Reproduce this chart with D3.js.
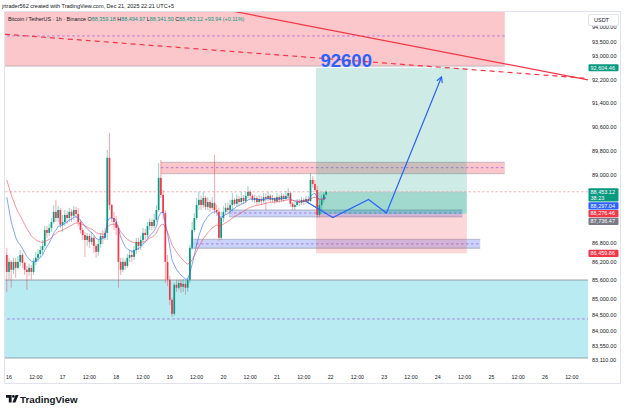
<!DOCTYPE html>
<html><head><meta charset="utf-8">
<script src="https://cdn.jsdelivr.net/npm/d3@7"></script>
<style>body{margin:0;background:#fff;} svg{display:block;font-family:"Liberation Sans",Arial,sans-serif;}</style>
</head><body><svg id="c" width="625" height="411"></svg>
<script>
// ---------------- DATA ----------------
const firstCandle = "2025-12-15T23:00"; // hourly candles, UTC+5 display time
const firstOpen = 86412;
const closes = [
85870,86190,85940,86190,86000,86190,86410,86160,85940,85870,86000,85870,
86190,86320,86440,86570,86700,87210,87120,87280,87470,87800,87600,87860,
87380,87470,87700,87600,87800,87670,87860,87730,87470,87210,87050,86890,
87020,86830,86960,86700,86510,86760,87020,86960,87120,89570,88020,87600,
87470,87280,86190,85940,86190,86060,86320,86410,86350,86570,86830,86700,
86890,87120,87050,87340,87470,87340,87540,87860,88910,88350,87760,86190,
85620,84990,84550,85460,85370,85520,85400,85490,85370,85620,86640,87210,
87600,88020,88190,88020,88250,87960,88120,87930,88090,87860,87800,86960,
87600,87800,87930,87860,88020,88190,88060,88220,88120,88250,88150,88320,
88450,88320,88190,88250,88120,88220,88150,88280,88220,88320,88190,88250,
88150,88280,88190,88320,88220,88320,88410,88060,87960,88020,88120,88090,
88190,88120,88220,88150,88840,88710,88510,87700,88020,88190,88359.18,88453.12];
const highs = [
86640,86320,86250,86320,86320,86380,86570,86480,86190,86060,86130,86090,
86320,86510,86600,86700,86890,87340,87340,87410,87600,88020,88190,87990,
87930,87700,87860,87830,87930,87890,87990,87960,87930,87540,87280,87150,
87120,87090,87150,87020,86760,86890,87120,87210,87280,89830,90400,88060,
87800,87670,87380,86320,86320,86290,86440,86570,86570,86700,86960,86960,
87020,87280,87250,87470,87600,87570,87730,88020,89400,89500,88510,87860,
86410,85750,85050,85520,85620,85620,85620,85650,85590,85680,86730,87470,
87760,88250,88450,88320,88450,88320,88280,88190,88280,89670,88020,87930,
87800,87990,88090,88090,88190,88410,88250,88380,88320,88450,88350,88450,
88640,88510,88380,88350,88320,88350,88320,88410,88410,88450,88380,88350,
88280,88410,88350,88410,88380,88480,88580,88450,88120,88120,88220,88220,
88280,88250,88320,88320,89070,88970,88840,88640,88190,88350,88420,88494.97];
const lows = [
85240,85620,85370,85810,85680,85940,86060,86000,85780,85300,85750,85620,
85780,86090,86190,86320,86440,86640,86960,87020,87150,87410,87470,87470,
87280,87150,87340,87410,87470,87470,87540,87600,87340,87090,86890,86350,
86700,86640,86730,86480,86320,86380,86640,86760,86890,86890,87860,87470,
87210,87050,85370,85780,85870,85940,86000,86190,86190,86250,86440,86570,
86570,86760,86890,86960,87210,87210,87280,87470,87800,88250,87540,85520,
85430,84830,84460,84490,85240,85300,85210,85240,85150,85240,85520,86570,
87150,87540,87860,87860,87930,87860,87860,87800,87860,87730,87670,86860,
86890,87470,87700,87760,87800,87800,87990,87990,88020,88060,88060,88090,
88250,88220,88120,88090,88020,88060,88020,88090,87860,88150,88120,88090,
88060,88090,88090,88120,88120,88190,88220,87960,87860,87860,87960,87990,
88020,88020,88060,88060,88120,88580,88450,87600,87630,87860,88100,88341.50];

// moving averages (EMA 9 blue, EMA 21 red), values at first candle
const emaPeriods = [9, 21];
const emaStartValues = [88283, 88840];

// horizontal zones
const zoneTop    = [94800, 89420, 87860, 86910, 85615];
const zoneBottom = [92660, 89050, 87635, 86625, 83182];
const zoneMid    = [93700, 89245, 87763, 86766, 84390];
const zoneFrom   = ["2025-12-15T12:00","2025-12-18T20:00","2025-12-20T02:30","2025-12-19T09:30","2025-12-15T12:00"];
const zoneTo     = ["2025-12-25T06:00","2025-12-25T06:00","2025-12-24T11:00","2025-12-24T19:00","2025-12-27T12:00"];
const zoneKind   = ["red","red","blue","blue","cyan"];

// long position tool
const posFrom = "2025-12-21T17:30", posTo = "2025-12-24T13:00";
const posEntry = 87736.47, posTarget = 92604.46, posStop = 86459.86;

// trend lines (two anchors each)
const solidLineTimes = ["2025-12-21T12:00","2025-12-26T12:00"], solidLinePrices = [94083, 92294];
const dashLineTimes  = ["2025-12-16T00:00","2025-12-26T12:00"], dashLinePrices  = [93747, 92282];

// projected path
const projTimes  = ["2025-12-21T13:25","2025-12-22T01:00","2025-12-22T17:00","2025-12-23T01:00","2025-12-24T01:40"];
const projPrices = [88121, 87616, 88203, 87762, 92288];
const noteText = "92600", noteTime = "2025-12-22T07:00", notePrice = 92640;

// axes
const priceTicks = [94000,93500,93000,92200,91400,90600,89800,89000,86800,86200,85600,85000,84500,84000,83550,83110];
const axisFrom = "2025-12-16T00:00", axisTo = "2025-12-26T12:00";
const labelValues = [92604.46, 88453.12, 88297.04, 88276.46, 87736.47, 86459.86];
const labelColors = ["#089981","#089981","#2962ff","#f23645","#787b86","#f23645"];
const countdown = "38:23";
const headerText = "jrtrader562 created with TradingView.com, Dec 21, 2025 22:21 UTC+5";
const symbolText = "Bitcoin / TetherUS · 1h · Binance";

// ---------------- DRAW ----------------
const T = s => new Date(s + ":00Z");
const svg = d3.select("#c");
const P = {l:5, r:588, t:11.5, b:368};
const x = d3.scaleUtc().domain([T("2025-12-16T00:00"), T("2025-12-26T00:00")]).range([9, 545]);
const y = d3.scaleLog().domain([83110, 94000]).range([360.3, 27.3]);
const UP = "#089981", DN = "#f23645", TXT = "#131722";
const fmt = d3.format(",.2f");

svg.append("rect").attr("width",625).attr("height",411).attr("fill","#fff");
svg.append("defs").append("clipPath").attr("id","clip")
  .append("rect").attr("x",P.l).attr("y",P.t).attr("width",P.r-P.l).attr("height",P.b-P.t);
const g = svg.append("g").attr("clip-path","url(#clip)");

// zones
const zoneFill = {red:"rgba(242,54,69,0.28)", blue:"rgba(60,95,235,0.27)", cyan:"rgba(0,182,207,0.28)"};
zoneTop.forEach((tp,i)=>{
  const x0 = x(T(zoneFrom[i])), x1 = x(T(zoneTo[i]));
  const y0 = y(tp), y1 = y(zoneBottom[i]);
  g.append("rect").attr("x",x0).attr("y",y0).attr("width",x1-x0).attr("height",y1-y0)
   .attr("fill",zoneFill[zoneKind[i]]);
  [y0,y1].forEach(yy=>g.append("line").attr("x1",x0).attr("x2",x1).attr("y1",yy).attr("y2",yy)
     .attr("stroke","rgba(120,123,134,0.35)").attr("stroke-width",zoneKind[i]==="cyan"?2:1.3));
  g.append("line").attr("x1",x0).attr("x2",x1).attr("y1",y(zoneMid[i])).attr("y2",y(zoneMid[i]))
   .attr("stroke","#a66bd8").attr("stroke-width",1).attr("stroke-dasharray","2.5,2.5").attr("opacity",0.85);
});

// position tool
{
  const x0 = x(T(posFrom)), x1 = x(T(posTo));
  const last = closes[closes.length-1];
  g.append("rect").attr("x",x0).attr("width",x1-x0).attr("y",y(posTarget)).attr("height",y(posEntry)-y(posTarget)).attr("fill","rgba(8,153,129,0.2)");
  g.append("rect").attr("x",x0).attr("width",x1-x0).attr("y",y(posEntry)).attr("height",y(posStop)-y(posEntry)).attr("fill","rgba(242,54,69,0.2)");
  g.append("rect").attr("x",x0).attr("width",x1-x0).attr("y",y(last)).attr("height",y(posEntry)-y(last)).attr("fill","rgba(8,153,129,0.22)");
}

// last price line
const lastC = closes[closes.length-1];
g.append("line").attr("x1",P.l).attr("x2",P.r).attr("y1",y(lastC)).attr("y2",y(lastC))
  .attr("stroke","#f59ca4").attr("stroke-width",0.8).attr("stroke-dasharray","2.5,2");

// candles
const t0 = T(firstCandle).getTime();
const candles = closes.map((c,i)=>({
  t:new Date(t0 + i*3600000), o: i===0?firstOpen:closes[i-1], h:highs[i], l:lows[i], c
}));
const cg = g.append("g");
candles.forEach(d=>{
  const cx = x(d.t), col = d.c>=d.o?UP:DN;
  cg.append("line").attr("x1",cx).attr("x2",cx).attr("y1",y(d.h)).attr("y2",y(d.l))
    .attr("stroke",col).attr("stroke-width",0.8).attr("opacity",0.55);
  const yt = y(Math.max(d.o,d.c)), yb = y(Math.min(d.o,d.c));
  cg.append("rect").attr("x",cx-0.85).attr("width",1.7).attr("y",yt).attr("height",Math.max(0.8,yb-yt)).attr("fill",col);
});

// EMAs
const emaColors = ["rgba(41,98,255,0.65)","rgba(242,54,69,0.6)"];
emaPeriods.forEach((n,k)=>{
  const a = 2/(n+1); let e = emaStartValues[k];
  const pts = candles.map((d,i)=>{ if(i>0) e = a*d.c + (1-a)*e; return [x(d.t), y(e)]; });
  g.append("path").attr("d",d3.line()(pts)).attr("fill","none").attr("stroke",emaColors[k]).attr("stroke-width",0.9);
});

// trend lines (extended across the pane)
function extLine(times, prices){
  const ax = x(T(times[0])), ay = y(prices[0]), bx = x(T(times[1])), by = y(prices[1]);
  const s = (by-ay)/(bx-ax);
  return [[P.l, ay + (P.l-ax)*s],[P.r, ay + (P.r-ax)*s]];
}
g.append("path").attr("d",d3.line()(extLine(dashLineTimes,dashLinePrices))).attr("stroke",DN).attr("stroke-width",1.2).attr("stroke-dasharray","5,4").attr("fill","none");
g.append("path").attr("d",d3.line()(extLine(solidLineTimes,solidLinePrices))).attr("stroke",DN).attr("stroke-width",1.2).attr("fill","none");

// projection path with arrow
const pp = projTimes.map((t,i)=>[x(T(t)), y(projPrices[i])]);
g.append("path").attr("d",d3.line()(pp)).attr("stroke","#2962ff").attr("stroke-width",1.2).attr("fill","none");
{
  const [ex,ey] = pp[pp.length-1], [sx,sy] = pp[pp.length-2];
  const ang = Math.atan2(ey-sy, ex-sx), L = 6;
  const ah = [[ex - L*Math.cos(ang-0.5), ey - L*Math.sin(ang-0.5)],[ex,ey],[ex - L*Math.cos(ang+0.5), ey - L*Math.sin(ang+0.5)]];
  g.append("path").attr("d",d3.line()(ah)).attr("stroke","#2962ff").attr("stroke-width",1.2).attr("fill","none");
}
g.append("text").attr("x",x(T(noteTime))).attr("y",y(notePrice)).attr("text-anchor","middle")
  .attr("font-size",18.5).attr("font-weight","bold").attr("fill","#2962ff").text(noteText);

// border
svg.append("rect").attr("x",4.5).attr("y",11.5).attr("width",616).attr("height",372).attr("fill","none").attr("stroke","#e0e3eb").attr("stroke-width",1);

// price axis ticks
priceTicks.forEach(v=>{
  svg.append("text").attr("x",592).attr("y",y(v)+2).attr("font-size",5.5).attr("fill",TXT).text(fmt(v));
});
// USDT box
svg.append("rect").attr("x",588.5).attr("y",14.5).attr("width",30).attr("height",11).attr("rx",1.5).attr("fill","#fff").attr("stroke","#e0e3eb");
svg.append("text").attr("x",594).attr("y",22).attr("font-size",5.5).attr("fill",TXT).text("USDT");

// price labels (stacked to avoid overlap)
let prevBottom = -1e9;
labelValues.map((v,i)=>({v,i})).sort((a,b)=>b.v-a.v).forEach(({v,i})=>{
  const two = (v===lastC);
  const h = two?13.4:7.2;
  let top = y(v) - 3.6;
  if (top < prevBottom + 0.6) top = prevBottom + 0.6;
  prevBottom = top + h;
  svg.append("rect").attr("x",588.5).attr("y",top).attr("width",30).attr("height",h).attr("rx",1).attr("fill",labelColors[i]);
  svg.append("text").attr("x",590.5).attr("y",top+5.5).attr("font-size",5.5).attr("fill","#fff").text(fmt(v));
  if (two) svg.append("text").attr("x",590.5).attr("y",top+11.8).attr("font-size",5.5).attr("fill","#fff").text(countdown);
});

// time axis
d3.utcHour.every(12).range(T(axisFrom), new Date(T(axisTo).getTime()+1)).forEach(d=>{
  const lab = d.getUTCHours()===0 ? String(d.getUTCDate()) : "12:00";
  svg.append("text").attr("x",x(d)).attr("y",379).attr("text-anchor","middle").attr("font-size",5.3).attr("fill",TXT).text(lab);
});

// header & legend
svg.append("text").attr("x",2).attr("y",8).attr("font-size",5.4).attr("fill",TXT)
  .attr("textLength",172).attr("lengthAdjust","spacingAndGlyphs").text(headerText);
{
  const last = candles[candles.length-1];
  const ch = last.c - last.o, pct = ch/last.o*100;
  const lg = svg.append("text").attr("x",8).attr("y",20.5).attr("font-size",5.4).attr("fill",TXT);
  lg.append("tspan").text(symbolText + "  ");
  [["O",last.o],["H",last.h],["L",last.l],["C",last.c]].forEach(([k,v])=>{
    lg.append("tspan").attr("fill",TXT).text(k);
    lg.append("tspan").attr("fill",UP).text(fmt(v)+" ");
  });
  lg.append("tspan").attr("fill",UP).text((ch>=0?"+":"")+fmt(ch)+" ("+(ch>=0?"+":"")+pct.toFixed(2)+"%)");
}

// TradingView logo
svg.append("path").attr("d","M6,395 h5.6 v7.4 h-2.8 v-4.6 h-2.8z").attr("fill",TXT);
svg.append("circle").attr("cx",13.4).attr("cy",396.4).attr("r",1.4).attr("fill",TXT);
svg.append("path").attr("d","M15.6,395 h3 l-3.2,7.4 h-3z").attr("fill",TXT);
svg.append("text").attr("x",20).attr("y",402.5).attr("font-size",9.8).attr("font-weight","bold").attr("fill",TXT).text("TradingView");
</script></body></html>
